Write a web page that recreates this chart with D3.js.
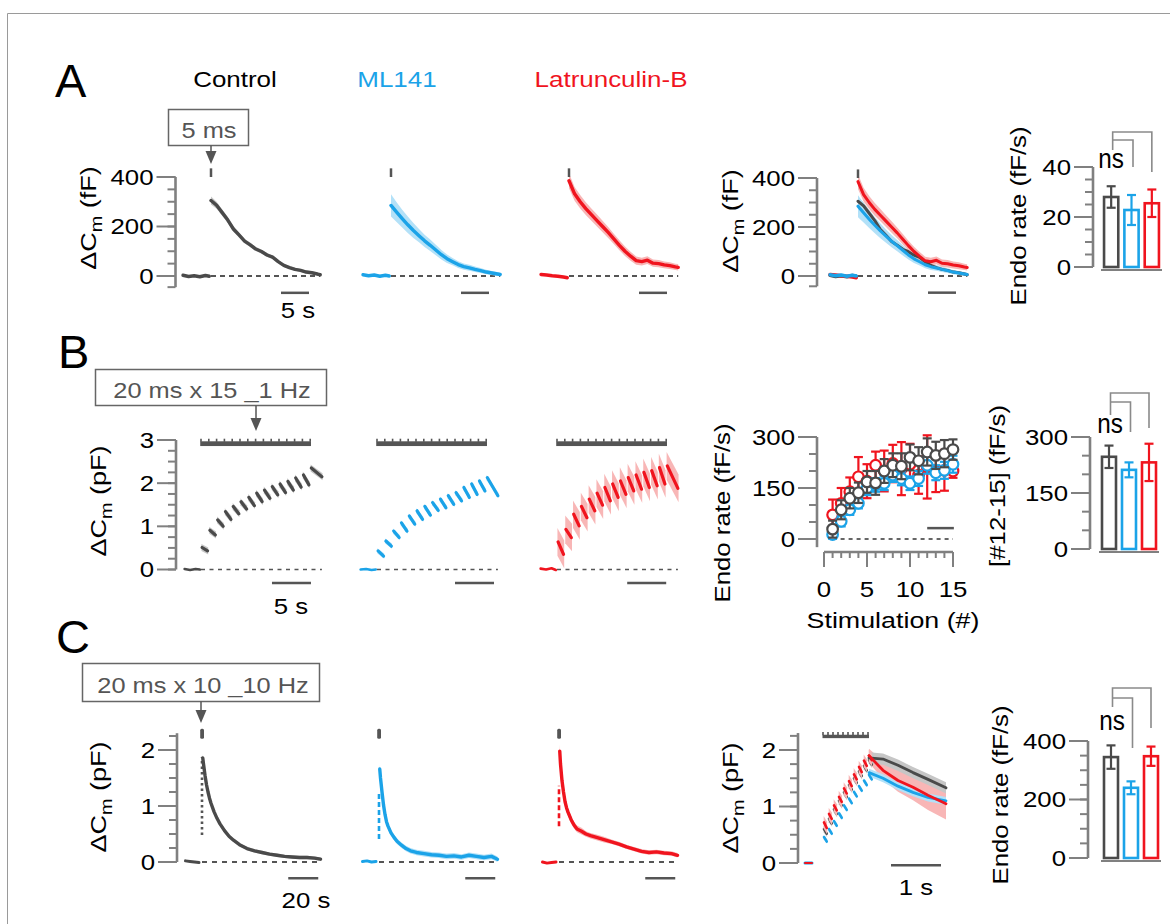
<!DOCTYPE html>
<html><head><meta charset="utf-8">
<script src="https://cdn.jsdelivr.net/npm/d3@7"></script>
<style>body{margin:0;background:#fff}</style>
</head><body>
<script>
// ================= DATA =================
const conditions = ["Control", "ML141", "Latrunculin-B"];

// ---- Panel A : single 5 ms pulse, ΔCm (fF) vs time (s) ----
const A_t      = [0, 1, 2, 3, 4, 5, 6, 7, 8, 9, 10, 11, 12, 13, 14, 15, 16, 17, 18, 19, 19.5];
const A_ctrl   = [305, 286, 256, 226, 190, 166, 141, 126, 109, 99, 85, 76, 58, 43, 34, 27, 23, 16, 13, 8, 5];
const A_ctrlSem= [16, 14, 13, 12, 11, 10, 9, 9, 8, 8, 8, 7, 7, 7, 6, 6, 6, 6, 6, 6, 6];
const A_ml     = [285, 258, 232, 207, 184, 163, 142, 124, 105, 86, 70, 58, 46, 38, 33, 27, 22, 16, 12, 8, 6];
const A_mlSem  = [45, 40, 36, 33, 30, 27, 25, 23, 21, 19, 17, 15, 14, 13, 12, 11, 10, 9, 8, 8, 7];
const A_lat    = [385, 332, 300, 272, 248, 224, 200, 176, 150, 124, 100, 80, 62, 58, 64, 52, 50, 45, 42, 37, 35];
const A_latSem = [30, 28, 27, 26, 25, 24, 23, 22, 21, 20, 19, 18, 17, 16, 16, 15, 15, 14, 14, 13, 13];
const A_tBase    = [-5, -4, -3, -2, -1, -0.3];
const A_ctrlBase = [3, -2, 1, -3, 2, -1];
const A_mlBase   = [5, 1, 4, -1, 3, 0];
const A_latBase  = [6, 4, 1, -1, -4, -7];
const A_yTicks   = [0, 200, 400];
const A_barMean  = [28, 22.8, 25.5];
const A_barSem   = [4.3, 6, 5.5];
const A_barTicks = [0, 20, 40];

// ---- Panel B : 20 ms x 15 at 1 Hz, ΔCm (pF) ----
const B_pulse    = [0, 1, 2, 3, 4, 5, 6, 7, 8, 9, 10, 11, 12, 13, 14];
const B_ctrlPeak = [0.51, 0.91, 1.15, 1.34, 1.46, 1.57, 1.67, 1.77, 1.84, 1.92, 1.98, 2.04, 2.12, 2.19, 2.35];
const B_ctrlEnd  = [0.43, 0.80, 1.00, 1.16, 1.29, 1.40, 1.48, 1.57, 1.65, 1.73, 1.78, 1.84, 1.91, 1.96, 2.15];
const B_mlPeak   = [0.43, 0.66, 0.89, 1.08, 1.24, 1.36, 1.46, 1.55, 1.63, 1.71, 1.78, 1.90, 1.98, 2.05, 2.13];
const B_mlEnd    = [0.31, 0.54, 0.74, 0.89, 1.05, 1.16, 1.26, 1.37, 1.43, 1.51, 1.59, 1.67, 1.74, 1.82, 1.71];
const B_latPeak  = [0.64, 0.93, 1.28, 1.46, 1.63, 1.77, 1.90, 1.98, 2.05, 2.13, 2.19, 2.25, 2.29, 2.36, 2.40];
const B_latEnd   = [0.35, 0.74, 1.01, 1.20, 1.36, 1.49, 1.59, 1.67, 1.74, 1.82, 1.86, 1.90, 1.94, 1.98, 1.88];
const B_halfBand = [0.08, 0.06, 0.32];
const B_tBase    = [-2.1, -1.4, -0.7, -0.15];
const B_ctrlBase = [0.01, -0.01, 0.01, 0.0];
const B_mlBase   = [0.0, 0.01, -0.01, 0.0];
const B_latBase  = [0.02, 0.0, 0.03, -0.01];
const B_yTicks   = [0, 1, 2, 3];
// endocytosis rate per stimulation
const B_stim        = [1, 2, 3, 4, 5, 6, 7, 8, 9, 10, 11, 12, 13, 14, 15];
const B_rateCtrl    = [29, 86, 120, 136, 168, 165, 200, 217, 214, 240, 230, 256, 246, 251, 263];
const B_rateCtrlErr = [25, 28, 30, 30, 32, 35, 35, 35, 38, 38, 40, 40, 40, 40, 30];
const B_rateMl      = [13, 52, 86, 105, 149, 159, 164, 188, 178, 164, 178, 217, 195, 202, 220];
const B_rateMlErr   = [12, 15, 15, 15, 20, 20, 20, 20, 20, 20, 22, 25, 22, 25, 25];
const B_rateLat     = [71, 105, 139, 183, 170, 217, 200, 222, 207, 220, 188, 212, 198, 202, 200];
const B_rateLatErr  = [45, 45, 42, 58, 50, 40, 60, 55, 78, 60, 55, 93, 60, 60, 20];
const B_rateYTicks  = [0, 150, 300];
const B_rateXTicks  = [0, 5, 10, 15];
const B_barMean  = [247, 212, 232];
const B_barSem   = [30, 20, 50];
const B_barTicks = [0, 150, 300];

// ---- Panel C : 20 ms x 10 at 10 Hz, ΔCm (pF) ----
const C_t      = [0.5, 1, 2, 3, 4, 5, 6, 8, 10, 12, 15, 18, 21, 25, 30, 35, 40, 45, 50, 55, 60, 65, 70, 75, 79];
const C_ctrl   = [1.86, 1.75, 1.55, 1.38, 1.25, 1.14, 1.05, 0.90, 0.78, 0.68, 0.56, 0.46, 0.39, 0.31, 0.24, 0.20, 0.17, 0.14, 0.12, 0.10, 0.09, 0.08, 0.08, 0.07, 0.05];
const C_ctrlSem= [0.07, 0.07, 0.06, 0.06, 0.05, 0.05, 0.05, 0.04, 0.04, 0.04, 0.04, 0.03, 0.03, 0.03, 0.03, 0.03, 0.03, 0.03, 0.03, 0.03, 0.03, 0.03, 0.03, 0.03, 0.03];
const C_ml     = [1.66, 1.50, 1.25, 1.02, 0.85, 0.72, 0.64, 0.52, 0.44, 0.37, 0.30, 0.24, 0.20, 0.17, 0.15, 0.13, 0.12, 0.10, 0.11, 0.09, 0.12, 0.10, 0.08, 0.10, 0.05];
const C_mlSem  = [0.08, 0.08, 0.07, 0.07, 0.06, 0.06, 0.06, 0.05, 0.05, 0.05, 0.05, 0.05, 0.05, 0.05, 0.05, 0.05, 0.05, 0.05, 0.05, 0.05, 0.05, 0.05, 0.05, 0.05, 0.05];
const C_lat    = [1.98, 1.75, 1.45, 1.25, 1.08, 0.97, 0.89, 0.76, 0.66, 0.59, 0.55, 0.50, 0.47, 0.44, 0.40, 0.36, 0.32, 0.27, 0.23, 0.19, 0.17, 0.18, 0.16, 0.15, 0.12];
const C_latSem = [0.12, 0.11, 0.10, 0.09, 0.08, 0.08, 0.07, 0.07, 0.06, 0.06, 0.06, 0.05, 0.05, 0.05, 0.05, 0.04, 0.04, 0.04, 0.04, 0.04, 0.04, 0.04, 0.04, 0.04, 0.04];
const C_gapLo  = [0.48, 0.41, 0.64];
const C_gapHi  = [1.87, 1.27, 1.36];
const C_tBase    = [-11, -8, -5, -2];
const C_ctrlBase = [0.02, 0.01, 0.0, -0.01];
const C_mlBase   = [0.01, 0.02, 0.0, 0.01];
const C_latBase  = [0.0, -0.02, -0.01, 0.0];
const C_yTicks   = [0, 1, 2];
// expanded view of the train
const C2_pulse    = [0, 0.1, 0.2, 0.3, 0.4, 0.5, 0.6, 0.7, 0.8, 0.9];
const C2_ctrlPeak = [0.60, 0.78, 0.95, 1.10, 1.25, 1.38, 1.50, 1.62, 1.72, 1.82];
const C2_ctrlEnd  = [0.52, 0.70, 0.87, 1.02, 1.17, 1.30, 1.42, 1.54, 1.64, 1.74];
const C2_mlPeak   = [0.46, 0.60, 0.74, 0.88, 1.02, 1.14, 1.26, 1.36, 1.46, 1.56];
const C2_mlEnd    = [0.38, 0.52, 0.66, 0.80, 0.94, 1.06, 1.18, 1.28, 1.38, 1.48];
const C2_latPeak  = [0.72, 0.87, 1.02, 1.17, 1.32, 1.45, 1.57, 1.70, 1.81, 1.90];
const C2_latEnd   = [0.62, 0.78, 0.93, 1.08, 1.23, 1.36, 1.48, 1.61, 1.72, 1.82];
const C2_halfBand = [0.06, 0.04, 0.11];
const C2_t        = [0.92, 1.2, 1.5, 1.8, 2.1, 2.46];
const C2_ctrl     = [1.86, 1.84, 1.73, 1.60, 1.48, 1.33];
const C2_ctrlSem  = [0.10, 0.10, 0.10, 0.10, 0.10, 0.10];
const C2_ml       = [1.60, 1.50, 1.36, 1.25, 1.16, 1.10];
const C2_mlSem    = [0.07, 0.07, 0.07, 0.07, 0.07, 0.07];
const C2_lat      = [1.90, 1.64, 1.46, 1.34, 1.20, 1.05];
const C2_latSem   = [0.12, 0.16, 0.20, 0.23, 0.26, 0.28];
const C2_tBase    = [-0.36, -0.22];
const C2_base     = [0.0, 0.0];
const C_barMean  = [345, 240, 348];
const C_barSem   = [40, 22, 33];
const C_barTicks = [0, 200, 400];

// ================= DRAWING =================
const W = 1170, H = 924;
const svg = d3.select("body").append("svg").attr("width", W).attr("height", H)
  .style("font-family", "'Liberation Sans', Arial, Helvetica, sans-serif");
const COL   = ["#4a4a4a", "#1ba3e8", "#f0141e"];
const LIGHT = ["#c6c6c6", "#b3e1f8", "#f8b6b6"];
const AX = "#808080", DK = "#555555";
const SX = 1.2;
const FS = 21.5;

// frame
svg.append("path").attr("d", "M7.5,924V13.5H1170").attr("fill", "none").attr("stroke", "#9a9a9a").attr("stroke-width", 1);

function txt(x, y, s, o = {}) {
  const {size = FS, anchor = "middle", fill = "#000", rot = 0, sx = SX} = o;
  return svg.append("text")
    .attr("transform", `translate(${x},${y}) rotate(${rot}) scale(${sx},1)`)
    .attr("text-anchor", anchor).attr("font-size", size).attr("fill", fill).text(s);
}
function dCm(x, y, unit) {
  const t = svg.append("text").attr("transform", `translate(${x},${y}) rotate(-90) scale(${SX},1)`)
    .attr("text-anchor", "middle").attr("font-size", 22.5);
  t.append("tspan").text("ΔC");
  t.append("tspan").attr("font-size", 16.5).attr("dy", 5.5).text("m");
  t.append("tspan").attr("dy", -5.5).text(" (" + unit + ")");
}
function yAxis(x, ys, lo, hi, majors, step, endTick = false) {
  const g = svg.append("g").attr("stroke", AX).attr("stroke-width", 2);
  g.append("line").attr("x1", x).attr("x2", x).attr("y1", ys(lo)).attr("y2", ys(hi)).attr("stroke-width", 2.6);
  const first = Math.ceil(lo / step - 1e-9) * step;
  const minors = d3.range(first, hi + step * 1e-6, step);
  if (endTick) minors.push(lo);
  minors.forEach(v => g.append("line").attr("x1", x - 8).attr("x2", x).attr("y1", ys(v)).attr("y2", ys(v)));
  majors.forEach(v => {
    g.append("line").attr("x1", x - 19).attr("x2", x).attr("y1", ys(v)).attr("y2", ys(v));
    txt(x - 22, ys(v) + 7.8, String(v), {anchor: "end"});
  });
}
function trace(xs, ys, t, v, color, w = 3.4) {
  svg.append("path").datum(d3.zip(t, v))
    .attr("d", d3.line().x(d => xs(d[0])).y(d => ys(d[1])))
    .attr("fill", "none").attr("stroke", color).attr("stroke-width", w)
    .attr("stroke-linejoin", "round").attr("stroke-linecap", "round");
}
function band(xs, ys, t, v, s, color) {
  svg.append("path").datum(d3.zip(t, v, s))
    .attr("d", d3.area().x(d => xs(d[0])).y0(d => ys(d[1] - d[2])).y1(d => ys(d[1] + d[2])))
    .attr("fill", color);
}
function hline(x1, x2, y, color, w, dash) {
  const l = svg.append("line").attr("x1", x1).attr("x2", x2).attr("y1", y).attr("y2", y)
    .attr("stroke", color).attr("stroke-width", w);
  if (dash) l.attr("stroke-dasharray", dash);
  return l;
}
function vline(x, y1, y2, color, w, dash) {
  const l = svg.append("line").attr("x1", x).attr("x2", x).attr("y1", y1).attr("y2", y2)
    .attr("stroke", color).attr("stroke-width", w);
  if (dash) l.attr("stroke-dasharray", dash);
  return l;
}
function stimBox(x, y, w, h, label, baseline, cx, ax, tip) {
  svg.append("rect").attr("x", x).attr("y", y).attr("width", w).attr("height", h)
    .attr("fill", "#fff").attr("stroke", "#666").attr("stroke-width", 1.5);
  txt(cx, baseline, label, {size: 21.5, sx: 1.18, fill: "#555"});
  vline(ax, y + h, tip - 12, "#555", 1.5);
  svg.append("path").attr("d", `M${ax - 5.5},${tip - 13}L${ax + 5.5},${tip - 13}L${ax},${tip}Z`).attr("fill", "#555");
}
function stimBar(xs, ys, t0, t1, vLo, vHi, vTick, pulses) {
  svg.append("rect").attr("x", xs(t0)).attr("y", ys(vHi)).attr("width", xs(t1) - xs(t0))
    .attr("height", ys(vLo) - ys(vHi)).attr("fill", DK);
  pulses.forEach(p => vline(xs(p), ys(vHi) + 0.5, ys(vTick), DK, 1.6));
}
function segments(xs, ys, pulses, peak, end, half, dt0, dt1, lastEnd, color, light, w) {
  pulses.forEach((p, k) => {
    const t0 = p + dt0, t1 = (k === pulses.length - 1 && lastEnd != null) ? lastEnd : p + dt1;
    band(xs, ys, [t0 - (dt1 - dt0) * 0.12, t1 + (dt1 - dt0) * 0.12], [peak[k], end[k]], [half, half], light);
  });
  pulses.forEach((p, k) => {
    const t0 = p + dt0, t1 = (k === pulses.length - 1 && lastEnd != null) ? lastEnd : p + dt1;
    trace(xs, ys, [t0, t1], [peak[k], end[k]], color, w);
  });
}
function barPanel(axisX, ys, hi, ticks, step, range, mean, sem, brk, ns) {
  yAxis(axisX, ys, 0, hi, ticks, step);
  const xb = d3.scaleBand().domain(conditions).range(range).paddingInner(0.3).paddingOuter(0.15);
  hline(range[0], range[1], ys(0) + 3, AX, 2);
  conditions.forEach((c, i) => {
    const x = xb(c), bw = xb.bandwidth(), cx = x + bw / 2;
    svg.append("rect").attr("x", x).attr("y", ys(mean[i])).attr("width", bw).attr("height", ys(0) - ys(mean[i]))
      .attr("fill", "#fff").attr("stroke", COL[i]).attr("stroke-width", 2.6);
    vline(cx, ys(mean[i] - sem[i]), ys(mean[i] + sem[i]), COL[i], 2.2);
    hline(cx - 4.5, cx + 4.5, ys(mean[i] + sem[i]), COL[i], 2.2);
    hline(cx - 4.5, cx + 4.5, ys(mean[i] - sem[i]), COL[i], 2.2);
  });
  const c0 = xb(conditions[0]) + xb.bandwidth() / 2 + 1.5;
  const c1 = xb(conditions[1]) + xb.bandwidth() / 2 + 1.5;
  const c2 = xb(conditions[2]) + xb.bandwidth() / 2;
  svg.append("path").attr("d", `M${c0},${brk[0]}V${brk[1]}H${c2}V${brk[2]}M${c0},${brk[3]}H${c1}V${brk[4]}`)
    .attr("fill", "none").attr("stroke", "#8a8a8a").attr("stroke-width", 1.6);
  txt(ns[0], ns[1], "ns", {size: 27, sx: 0.9});
}

// ---------- Panel labels & titles ----------
txt(55, 97, "A", {size: 47, anchor: "start", sx: 1});
txt(58, 368, "B", {size: 47, anchor: "start", sx: 1});
txt(56, 653, "C", {size: 47, anchor: "start", sx: 1});
txt(235, 87, conditions[0], {size: 22, sx: 1.18, fill: "#000"});
txt(397, 87, conditions[1], {size: 22, sx: 1.18, fill: COL[1]});
txt(611, 87, conditions[2], {size: 22, sx: 1.18, fill: COL[2]});

// ================= PANEL A =================
stimBox(168.5, 109.5, 80, 36, "5 ms", 137.5, 209, 211, 164);
const A_y = d3.scaleLinear().domain([0, 400]).range([276, 177]);
yAxis(175.5, A_y, -45, 400, A_yTicks, 50, true);
dCm(96, 218, "fF");
const A_series = [[A_ctrl, A_ctrlSem, A_ctrlBase], [A_ml, A_mlSem, A_mlBase], [A_lat, A_latSem, A_latBase]];
[211, 391, 569].forEach((x0, i) => {
  const xs = d3.scaleLinear().domain([0, 5]).range([x0, x0 + 28]);
  const [v, s, b] = A_series[i];
  hline(xs(0), xs(19.5), A_y(0), DK, 2.2, "5,4");
  band(xs, A_y, A_t, v, s, LIGHT[i]);
  trace(xs, A_y, A_tBase, b, COL[i]);
  trace(xs, A_y, A_t, v, COL[i]);
  vline(xs(0), A_y(400), A_y(435), DK, 2.5);
  hline(xs(12.5), xs(17.5), A_y(-68), DK, 2.5);
});
txt(298, 318, "5 s");
// overlay
{
  const ys = d3.scaleLinear().domain([0, 400]).range([276, 178]);
  const xs = d3.scaleLinear().domain([0, 5]).range([858, 886]);
  yAxis(817, ys, -42, 400, A_yTicks, 50, true);
  dCm(738, 221, "fF");
  hline(xs(0), xs(19.5), ys(0), DK, 2.2, "5,4");
  [0, 1, 2].forEach(i => band(xs, ys, A_t, A_series[i][0], A_series[i][1], LIGHT[i]));
  [0, 2, 1].forEach(i => trace(xs, ys, A_tBase, A_series[i][2], COL[i]));
  [0, 1, 2].forEach(i => trace(xs, ys, A_t, A_series[i][0], COL[i], 3));
  vline(xs(0), ys(400), ys(435), DK, 2.5);
  hline(xs(12.5), xs(17.5), ys(-68), DK, 2.5);
}
// bars
barPanel(1093, d3.scaleLinear().domain([0, 40]).range([267, 167]), 40, A_barTicks, 5,
  [1101, 1162], A_barMean, A_barSem, [150, 132, 172, 140, 167], [1111, 168]);
txt(1026, 216, "Endo rate (fF/s)", {rot: -90});

// ================= PANEL B =================
stimBox(95.5, 369.5, 231, 36, "20 ms x 15 _1 Hz", 397.5, 212, 256, 431);
const B_y = d3.scaleLinear().domain([0, 3]).range([569.5, 440]);
yAxis(176, B_y, 0, 3, B_yTicks, 0.25);
dCm(106, 501, "pF");
const B_series = [[B_ctrlPeak, B_ctrlEnd, B_ctrlBase], [B_mlPeak, B_mlEnd, B_mlBase], [B_latPeak, B_latEnd, B_latBase]];
const B_barStart = [9.1, 10, 9];
[201, 377, 557].forEach((x0, i) => {
  const xs = d3.scaleLinear().domain([0, 5]).range([x0, x0 + 39]);
  const [pk, en, b] = B_series[i];
  hline(xs(0), xs(15.5), B_y(0), DK, 1.6, "4,4.5");
  stimBar(xs, B_y, -0.1, 14.1, 2.86, 2.97, 3.03, B_pulse);
  segments(xs, B_y, B_pulse, pk, en, B_halfBand[i], 0.14, 0.84, 15.5, COL[i], LIGHT[i], 3.2);
  trace(xs, B_y, B_tBase, b, COL[i], 2.6);
  hline(xs(B_barStart[i]), xs(B_barStart[i] + 5), B_y(-0.31), DK, 2.5);
});
txt(291, 614, "5 s");
// rate vs stimulation
{
  const xs = d3.scaleLinear().domain([0, 15]).range([824, 953]);
  const ys = d3.scaleLinear().domain([0, 300]).range([539, 437]);
  yAxis(817, ys, -24, 300, B_rateYTicks, 50);
  const g = svg.append("g").attr("stroke", AX).attr("stroke-width", 2);
  g.append("line").attr("x1", xs(0)).attr("x2", xs(15)).attr("y1", 552).attr("y2", 552).attr("stroke-width", 2.6);
  d3.range(0, 16).forEach(v => g.append("line").attr("x1", xs(v)).attr("x2", xs(v)).attr("y1", 552)
    .attr("y2", 552 + (B_rateXTicks.includes(v) ? 15 : 6)));
  B_rateXTicks.forEach(v => txt(xs(v), 597, String(v)));
  txt(893, 628, "Stimulation (#)", {size: 22, sx: 1.22});
  txt(730, 513, "Endo rate (fF/s)", {rot: -90});
  hline(xs(1), xs(15), ys(0), "#666", 2, "4,4");
  hline(xs(12), xs(15.1), ys(32), DK, 2.5);
  const S = [[B_rateLat, B_rateLatErr, 2], [B_rateMl, B_rateMlErr, 1], [B_rateCtrl, B_rateCtrlErr, 0]];
  S.forEach(([m, e, ci]) => {
    B_stim.forEach((s, i) => {
      const x = xs(s);
      vline(x, ys(m[i] - e[i]), ys(m[i] + e[i]), COL[ci], 2.2);
      hline(x - 4.5, x + 4.5, ys(m[i] + e[i]), COL[ci], 2.2);
      hline(x - 4.5, x + 4.5, ys(m[i] - e[i]), COL[ci], 2.2);
    });
    B_stim.forEach((s, i) => svg.append("circle").attr("cx", xs(s)).attr("cy", ys(m[i])).attr("r", 5.3)
      .attr("fill", "#fff").attr("stroke", COL[ci]).attr("stroke-width", 2.2));
  });
}
barPanel(1090, d3.scaleLinear().domain([0, 300]).range([549, 437]), 300, B_barTicks, 50,
  [1099, 1159], B_barMean, B_barSem, [415, 393, 428, 402, 432], [1110, 433]);
txt(1005, 486, "[#12-15] (fF/s)", {rot: -90});

// ================= PANEL C =================
stimBox(82.5, 663.5, 237, 38, "20 ms x 10 _10 Hz", 692.5, 203, 201, 723);
const C_y = d3.scaleLinear().domain([0, 2]).range([862, 750]);
yAxis(177, C_y, 0, 2.3, C_yTicks, 0.25, false);
dCm(106, 797, "pF");
const C_series = [[C_ctrl, C_ctrlSem, C_ctrlBase], [C_ml, C_mlSem, C_mlBase], [C_lat, C_latSem, C_latBase]];
[202, 379, 559].forEach((x0, i) => {
  const xs = d3.scaleLinear().domain([0, 20]).range([x0, x0 + 30]);
  const [v, s, b] = C_series[i];
  hline(xs(0), xs(79), C_y(0), DK, 2.2, "5,5");
  band(xs, C_y, C_t, v, s, LIGHT[i]);
  trace(xs, C_y, C_tBase, b, COL[i], 3);
  vline(xs(0), C_y(C_gapLo[i]), C_y(C_gapHi[i]), i === 0 ? DK : COL[i], 2.6, i === 0 ? "2.5,3" : "5,3");
  trace(xs, C_y, C_t, v, COL[i], 3.4);
  svg.append("rect").attr("x", xs(0) - 1.8).attr("y", C_y(2.38)).attr("width", 3.8).attr("height", C_y(2.2) - C_y(2.38))
    .attr("rx", 1.5).attr("fill", DK);
  hline(xs(57.5), xs(77.5), C_y(-0.29), DK, 2.5);
});
txt(306, 908, "20 s");
// expanded train
{
  const xs = d3.scaleLinear().domain([0, 1]).range([823, 873]);
  const ys = d3.scaleLinear().domain([0, 2]).range([863, 750]);
  yAxis(798, ys, 0, 2.3, C_yTicks, 0.25);
  dCm(738, 798, "pF");
  stimBar(xs, ys, -0.01, 0.92, 2.21, 2.27, 2.32, C2_pulse);
  const segS = [[C2_ctrlPeak, C2_ctrlEnd, 0], [C2_mlPeak, C2_mlEnd, 1], [C2_latPeak, C2_latEnd, 2]];
  const decS = [[C2_ctrl, C2_ctrlSem, 0], [C2_ml, C2_mlSem, 1], [C2_lat, C2_latSem, 2]];
  band(xs, ys, C2_t, C2_lat, C2_latSem, LIGHT[2]);
  band(xs, ys, C2_t, C2_ctrl, C2_ctrlSem, LIGHT[0]);
  band(xs, ys, C2_t, C2_ml, C2_mlSem, LIGHT[1]);
  segS.forEach(([pk, en, ci]) => segments(xs, ys, C2_pulse, pk, en, C2_halfBand[ci], 0.02, 0.075, null, COL[ci], LIGHT[ci], 2.6));
  decS.forEach(([v, s, ci]) => trace(xs, ys, C2_t, v, COL[ci], 2.8));
  trace(xs, ys, C2_tBase, C2_base, COL[1], 3);
  trace(xs, ys, C2_tBase, C2_base, COL[2], 2);
  hline(xs(1.36), xs(2.36), ys(-0.04), DK, 2.5);
  txt(916, 895, "1 s");
}
barPanel(1088, d3.scaleLinear().domain([0, 400]).range([858, 741]), 400, C_barTicks, 50,
  [1101, 1161], C_barMean, C_barSem, [707, 688, 728, 698, 748], [1112, 730]);
txt(1008, 795, "Endo rate (fF/s)", {rot: -90});
</script>
</body></html>
